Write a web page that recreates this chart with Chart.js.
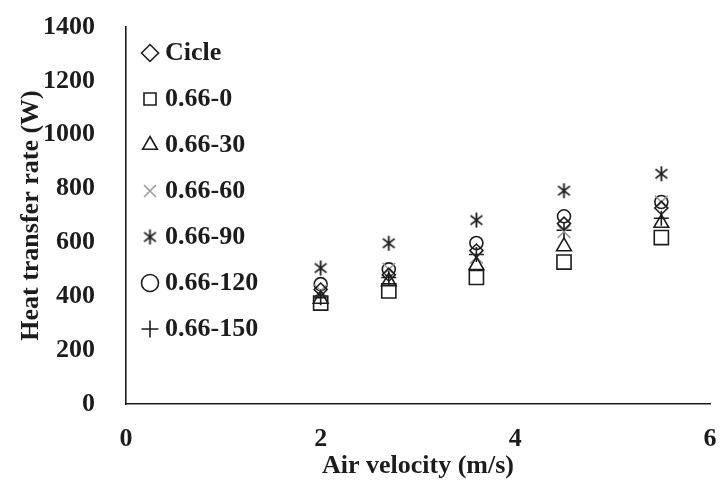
<!DOCTYPE html>
<html>
<head>
<meta charset="utf-8">
<title>Heat transfer rate vs air velocity</title>
<script src="https://cdn.jsdelivr.net/npm/chart.js@4.4.1/dist/chart.umd.min.js"></script>
<style>
  html, body { margin: 0; padding: 0; background: #ffffff; }
  #chart { display: block; }
</style>
</head>
<body>
<canvas id="chart" width="724" height="484"></canvas>
<script>
// air velocity (m/s)
const velocity = [2, 2.7, 3.6, 4.5, 5.5];

// heat transfer rate (W)
const cicle = [425, 480, 570, 670, 728];
const s0 = [375, 420, 470, 527, 618];
const s30 = [390, 455, 515, 585, 672];
const s60 = [420, 500, 545, 640, 750];
const s90 = [505, 597, 683, 792, 855];
const s120 = [445, 500, 598, 697, 750];
const s150 = [395, 470, 555, 645, 690];

const seriesNames = ['Cicle', '0.66-0', '0.66-30', '0.66-60', '0.66-90', '0.66-120', '0.66-150'];

const xTicks = { min: 0, max: 6, step: 2 };
const yTicks = { min: 0, max: 1400, step: 200 };

const serif = "'Liberation Serif', 'Times New Roman', serif";
const ink = '#1c1c1c';

// six-armed asterisk like the one in the original figure
function asterisk(size, color, lw) {
  const c = document.createElement('canvas');
  c.width = size;
  c.height = size;
  const g = c.getContext('2d');
  g.strokeStyle = color;
  g.lineWidth = lw;
  const m = size / 2;
  const r = size / 2 - 1;
  g.beginPath();
  [90, 38, 142].forEach((deg) => {
    const a = deg * Math.PI / 180;
    g.moveTo(m - r * Math.cos(a), m - r * Math.sin(a));
    g.lineTo(m + r * Math.cos(a), m + r * Math.sin(a));
  });
  g.stroke();
  return c;
}

function pts(values) {
  return velocity.map((x, i) => ({ x, y: values[i] }));
}

function series(label, values, style, radius, color) {
  return {
    label,
    data: pts(values),
    pointStyle: style,
    pointRadius: radius,
    pointHoverRadius: radius,
    borderColor: color || ink,
    backgroundColor: 'rgba(0,0,0,0)',
    pointBorderWidth: 1.6,
    borderWidth: 1.6,
    showLine: false
  };
}

// place the legend as a column inside the plot, next to the y axis
const legendSpot = {
  id: 'legendSpot',
  afterLayout(chart) {
    const lg = chart.legend;
    if (!lg) return;
    lg.left = 128;
    lg.top = 20;
    lg.right = lg.left + lg.width;
    lg.bottom = chart.chartArea.bottom;
  }
};

new Chart(document.getElementById('chart'), {
  type: 'scatter',
  data: {
    datasets: [
      series(seriesNames[0], cicle, 'rectRot', 6.5),
      series(seriesNames[1], s0, 'rect', 10),
      series(seriesNames[2], s30, 'triangle', 8.5),
      series(seriesNames[3], s60, 'crossRot', 9, '#9a9a9a'),
      series(seriesNames[4], s90, asterisk(17, ink, 1.8), 8),
      series(seriesNames[5], s120, 'circle', 6.5),
      series(seriesNames[6], s150, 'cross', 7.5)
    ]
  },
  options: {
    responsive: false,
    devicePixelRatio: 1,
    animation: false,
    layout: { padding: { left: 0, top: 27, right: 14, bottom: 0 } },
    scales: {
      x: {
        type: 'linear',
        min: xTicks.min,
        max: xTicks.max,
        afterFit: (s) => {
          s.height = 80;
          s.paddingLeft = 0;
          s.paddingRight = 0;
        },
        border: { display: true, color: ink, width: 1.6 },
        grid: { display: false },
        ticks: {
          stepSize: xTicks.step,
          padding: 12,
          color: ink,
          font: { family: serif, size: 26, weight: 'bold' }
        },
        title: {
          display: true,
          text: 'Air velocity (m/s)',
          color: ink,
          padding: { top: 0, bottom: 2 },
          font: { family: serif, size: 26, weight: 'bold' }
        }
      },
      y: {
        min: yTicks.min,
        max: yTicks.max,
        afterFit: (s) => {
          s.width = 126;
          s.paddingTop = 0;
          s.paddingBottom = 0;
        },
        border: { display: true, color: ink, width: 1.6 },
        grid: { display: false },
        ticks: {
          stepSize: yTicks.step,
          padding: 23,
          color: ink,
          callback: (v) => String(v),
          font: { family: serif, size: 26, weight: 'bold' }
        },
        title: {
          display: true,
          text: 'Heat transfer rate (W)',
          color: ink,
          padding: { top: 16, bottom: 0 },
          font: { family: serif, size: 26, weight: 'bold' }
        }
      }
    },
    plugins: {
      legend: {
        position: 'chartArea',
        align: 'start',
        labels: {
          usePointStyle: true,
          boxWidth: 4,
          boxHeight: 12,
          padding: 20,
          color: ink,
          font: { family: serif, size: 26, weight: 'bold' }
        }
      },
      tooltip: { enabled: false }
    }
  },
  plugins: [legendSpot]
});
</script>
</body>
</html>
